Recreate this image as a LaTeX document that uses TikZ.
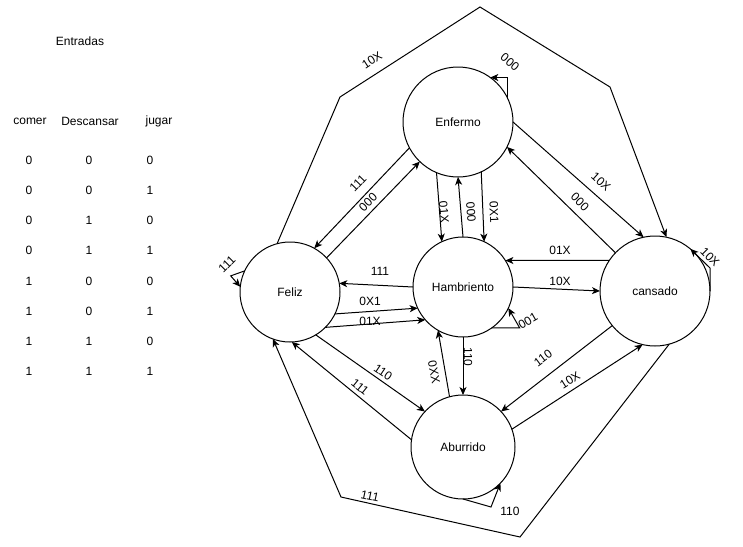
\documentclass[tikz,border=0pt]{standalone}
\usepackage{fontspec}
\setmainfont{Liberation Sans}
\usetikzlibrary{arrows.meta}
\begin{document}
\begin{tikzpicture}[x=1pt,y=-1pt,
  state/.style={draw, circle, line width=1pt, inner sep=0pt, outer sep=0pt, font=\fontsize{12}{14}\selectfont},
  arr/.style={line width=1pt, -{Stealth[length=8pt,width=7pt,inset=2.2pt]}},
  plain/.style={line width=1pt},
  lbl/.style={font=\fontsize{12}{14}\selectfont, inner sep=0pt},
  tbl/.style={font=\fontsize{12}{14}\selectfont, inner sep=0pt}]
\useasboundingbox (0,0) rectangle (743,546);

% table
\node[tbl] (ent) at (80,41) {Entradas};
\node[tbl] (hc) at (30,121) {comer};
\node[tbl] (hd) at (90,121) {Descansar};
\node[tbl] (hj) at (159,121) {jugar};
\foreach \i/\a/\b/\c/\yy in {0/0/0/0/160,1/0/0/1/190.5,2/0/1/0/220.5,3/0/1/1/250.5,4/1/0/0/281,5/1/0/1/311,6/1/1/0/341,7/1/1/1/371}{
  \node[tbl] (ra\i) at (29,\yy) {\a};
  \node[tbl] (rb\i) at (89,\yy) {\b};
  \node[tbl] (rc\i) at (150,\yy) {\c};
}

% states
\node[state, minimum size=110pt] (E) at (458,122) {Enfermo};
\node[state, minimum size=100pt] (F) at (290,292) {Feliz};
\node[state, minimum size=100pt] (H) at (463,287) {Hambriento};
\node[state, minimum size=110pt] (C) at (655,291) {cansado};
\node[state, minimum size=104pt] (A) at (463,447) {Aburrido};

% outer polygon corners
\coordinate (p1) at (340,97);
\coordinate (p2) at (480,7);
\coordinate (p3) at (610,87);
\coordinate (q1) at (520,537);
\coordinate (q2) at (341,497);

% connectors
\draw[arr] (F.105) -- (p1) -- (p2) -- (p3) -- (C.78);
\draw[arr] (C.-75) -- (q1) -- (q2) -- (F.-110);

\draw[arr] (E.208) -- (F.61);
\draw[arr] (F.43) -- (E.226);
\draw[arr] (E.247) -- (H.115);
\draw[arr] (H.90) -- (E.270);
\draw[arr] (E.-65) -- (H.65);
\draw[arr] (E.0) -- (C.102);
\draw[arr] (C.136) -- (E.-27);
\draw[arr] (C.146) -- (H.32);
\draw[arr] (H.0) -- (C.180);
\draw[arr] (H.180) -- (F.10);
\draw[arr] (F.-26) -- (H.205);
\draw[arr] (F.-45) -- (H.221);
\draw[arr] (F.-59) -- (A.137);
\draw[arr] (A.172) -- (F.-88);
\draw[arr] (A.105) -- (H.240);
\draw[arr] (H.270) -- (A.90);
\draw[arr] (C.219) -- (A.43);
\draw[arr] (A.20) -- (C.-103);

% self loops
\draw[arr] (E.26) |- (E.54);
\draw[arr] (C.0) -- ++(0,-23) -- (C.50);
\draw[arr] (H.-55) -- ++(28,0) -- (H.-25);
\draw[arr] (A.270) -- ++(28,8) -- (A.-44);
\draw[arr] (F.155) -- ++(-14,5) -- (F.174);

% labels
\node[lbl, rotate=33] (l1) at (372,60) {10X};
\node[lbl, rotate=46] (l2) at (358,183) {111};
\node[lbl, rotate=45] (l3) at (368,202) {000};
\node[lbl, rotate=-85] (l4) at (444,212) {01X};
\node[lbl, rotate=-85] (l5) at (471,212) {000};
\node[lbl, rotate=-88] (l6) at (494,212) {0X1};
\node[lbl, rotate=-42] (l7) at (601,182) {10X};
\node[lbl, rotate=-45] (l8) at (580,202) {000};
\node[lbl] (l9) at (560,250) {01X};
\node[lbl] (l10) at (560,281) {10X};
\node[lbl] (l11) at (380,271) {111};
\node[lbl] (l12) at (370,301) {0X1};
\node[lbl] (l13) at (370,321) {01X};
\node[lbl, rotate=-34] (l14) at (383,372) {110};
\node[lbl, rotate=-39] (l15) at (360,387) {111};
\node[lbl, rotate=-79] (l16) at (434,372) {0XX};
\node[lbl, rotate=-90] (l17) at (468,357) {110};
\node[lbl, rotate=37] (l18) at (543,358) {110};
\node[lbl, rotate=32] (l19) at (570,380) {10X};
\node[lbl, rotate=-45] (l20) at (710,257) {10X};
\node[lbl, rotate=-40] (l21) at (510,62) {000};
\node[lbl, rotate=30] (l22) at (528,321) {001};
\node[lbl, rotate=45] (l23) at (227,264) {111};
\node[lbl, rotate=-12] (l24) at (370,496) {111};
\node[lbl] (l25) at (510,511) {110};
\end{tikzpicture}
\end{document}
